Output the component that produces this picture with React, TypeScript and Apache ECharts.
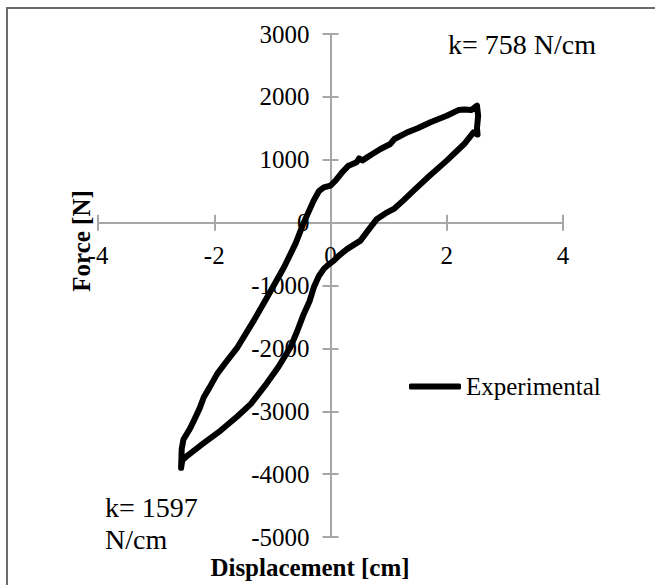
import React, { useEffect, useRef } from "react";
import * as echarts from "echarts";

const seriesName = "Experimental";
const xTickValues = [-4, -2, 0, 2, 4];
const yTickValues = [-5000, -4000, -3000, -2000, -1000, 0, 1000, 2000, 3000];

// Hysteresis loop (displacement in cm, force in N)
const displacement = [
  -2.57, -2.56, -2.53, -2.42, -2.35, -2.25, -2.18, -2.08, -1.95, -1.8, -1.6, -1.32, -1.09, -0.8, -0.6,
  -0.46, -0.29, -0.2, -0.115, 0, 0.086, 0.2, 0.31, 0.45, 0.49, 0.55, 0.7, 0.86, 1.03, 1.1, 1.32, 1.5,
  1.72, 2.0, 2.2, 2.3, 2.42, 2.52, 2.54, 2.52, 2.53, 2.46, 2.3, 2.0, 1.7, 1.43, 1.25, 1.09, 0.95, 0.8,
  0.65, 0.515, 0.29, 0.15, 0.057, -0.05, -0.115, -0.2, -0.287, -0.36, -0.46, -0.57, -0.69, -0.9, -1.1,
  -1.37, -1.6, -1.89, -2.2, -2.46, -2.55, -2.57,
];
const force = [
  -3900, -3600, -3450, -3280, -3148, -2950, -2777, -2620, -2405, -2220, -1983, -1558, -1187, -710, -330,
  0, 350, 500, 561, 590, 668, 800, 906, 960, 1020, 990, 1080, 1171, 1251, 1330, 1436, 1500,
  1595, 1701, 1790, 1800, 1790, 1860, 1700, 1500, 1400, 1436, 1250, 986, 740, 509, 350, 218, 150, 59,
  -120, -286, -418, -520, -604, -680, -736, -850, -1029, -1250, -1452, -1720, -1983, -2300, -2560,
  -2882, -3080, -3307, -3520, -3704, -3780, -3900,
];

const FONT = "'Liberation Serif', 'Times New Roman', serif";
const AXIS_COLOR = "#a6a6a6";
const W = 655;
const H = 585;
const GRID = { left: 98, right: 92, top: 34, bottom: 48 };

export default function App() {
  const ref = useRef<HTMLDivElement>(null);
  useEffect(() => {
    if (!ref.current) return;
    const chart = echarts.init(ref.current, undefined, { renderer: "svg" });
    const xMin = xTickValues[0];
    const xMax = xTickValues[xTickValues.length - 1];
    const yMin = yTickValues[0];
    const yMax = yTickValues[yTickValues.length - 1];
    const gw = W - GRID.left - GRID.right;
    const gh = H - GRID.top - GRID.bottom;
    // move axes from the grid edges to the zero lines
    const xOffset = -(gh * (0 - yMin)) / (yMax - yMin);
    const yOffset = -(gw * (0 - xMin)) / (xMax - xMin);
    const lineStyle = { color: AXIS_COLOR, width: 2 };
    const baseX = {
      type: "value" as const,
      min: xMin,
      max: xMax,
      interval: 2,
      position: "bottom" as const,
      offset: xOffset,
      splitLine: { show: false },
      axisLine: { show: true, onZero: false, lineStyle },
    };
    const baseY = {
      type: "value" as const,
      min: yMin,
      max: yMax,
      interval: 1000,
      position: "left" as const,
      offset: yOffset,
      splitLine: { show: false },
      axisLine: { show: true, onZero: false, lineStyle },
    };
    const fmt = (v: number) => String(v);
    const gridBox = { ...GRID, containLabel: false };
    chart.setOption({
      animation: false,
      backgroundColor: "#fff",
      grid: [gridBox, gridBox],
      xAxis: [
        {
          ...baseX,
          gridIndex: 0,
          axisTick: { show: true, inside: false, length: 8, lineStyle },
          axisLabel: { show: true, margin: 20, color: "#000", fontFamily: FONT, fontSize: 25, formatter: fmt },
        },
        {
          ...baseX,
          gridIndex: 1,
          axisTick: { show: true, inside: true, length: 8, lineStyle },
          axisLabel: { show: false },
        },
      ],
      yAxis: [
        {
          ...baseY,
          gridIndex: 0,
          axisTick: { show: true, inside: false, length: 8, lineStyle },
          axisLabel: { show: true, margin: 21, color: "#000", fontFamily: FONT, fontSize: 25, formatter: fmt },
        },
        {
          ...baseY,
          gridIndex: 1,
          axisTick: { show: true, inside: true, length: 8, lineStyle },
          axisLabel: { show: false },
        },
      ],
      legend: {
        show: true,
        data: [{ name: seriesName, icon: "roundRect" }],
        left: 404,
        top: 369,
        itemWidth: 52,
        itemHeight: 6,
        itemStyle: { color: "#000" },
        textStyle: { color: "#000", fontFamily: FONT, fontSize: 25 },
      },
      series: [
        {
          name: seriesName,
          type: "line",
          xAxisIndex: 0,
          yAxisIndex: 0,
          symbol: "none",
          showSymbol: false,
          smooth: false,
          lineStyle: { color: "#000", width: 6, join: "round", cap: "round" },
          itemStyle: { color: "#000" },
          z: 5,
          data: displacement.map((x, i) => [x, force[i]]),
        },
      ],
      graphic: [
        {
          type: "rect",
          shape: { x: 7, y: 8, width: 700, height: 650 },
          style: { fill: "none", stroke: "#6a6a6a", lineWidth: 2 },
          silent: true,
        },
        {
          type: "text",
          x: 448,
          y: 44,
          style: { text: "k= 758 N/cm", font: `28px ${FONT}`, fill: "#000", verticalAlign: "middle" },
        },
        {
          type: "text",
          x: 105,
          y: 507,
          style: { text: "k= 1597", font: `28px ${FONT}`, fill: "#000", verticalAlign: "middle" },
        },
        {
          type: "text",
          x: 105,
          y: 539,
          style: { text: "N/cm", font: `28px ${FONT}`, fill: "#000", verticalAlign: "middle" },
        },
        {
          type: "text",
          x: 310,
          y: 567,
          style: {
            text: "Displacement [cm]",
            font: `bold 25px ${FONT}`,
            fill: "#000",
            align: "center",
            verticalAlign: "middle",
          },
        },
        {
          type: "text",
          x: 81,
          y: 241,
          rotation: Math.PI / 2,
          style: {
            text: "Force [N]",
            font: `bold 25px ${FONT}`,
            fill: "#000",
            align: "center",
            verticalAlign: "middle",
          },
        },
      ],
    });
    return () => chart.dispose();
  }, []);
  return (
    <div
      ref={ref}
      style={{ position: "fixed", left: 0, top: 0, width: W, height: H, background: "#fff" }}
    />
  );
}
